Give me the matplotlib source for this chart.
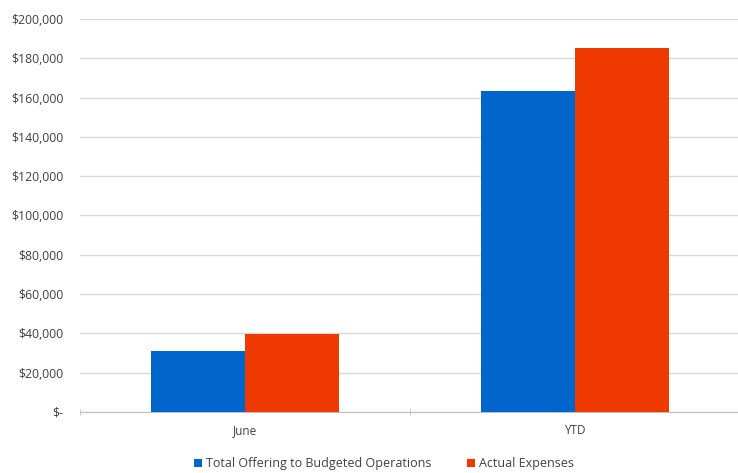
import matplotlib.pyplot as plt
import numpy as np
from matplotlib.ticker import FuncFormatter

# data
categories = ['June', 'YTD']
offering = [31000, 163500]
expenses = [39500, 185000]
series_names = ['Total Offering to Budgeted Operations', 'Actual Expenses']

plt.rcParams['font.family'] = ['Open Sans', 'DejaVu Sans']

fig = plt.figure(figsize=(7.38, 4.73), dpi=100)
ax = fig.add_axes([0.1084, 0.129, 0.894, 0.831])

x = np.arange(len(categories))
w = 0.285
ax.bar(x - w / 2, offering, w, color='#0066CC', label=series_names[0], zorder=3)
ax.bar(x + w / 2, expenses, w, color='#EE3A00', label=series_names[1], zorder=3)

ax.set_xlim(-0.5, 1.5)
ax.set_ylim(0, 200000)
ax.set_yticks(np.arange(0, 200001, 20000))


def money(v, pos):
    if v == 0:
        return '$-'
    return '${:,.0f}'.format(v)


ax.yaxis.set_major_formatter(FuncFormatter(money))
ax.grid(axis='y', color='#D9D9D9', linewidth=1, zorder=0)
for s in ['top', 'right', 'left']:
    ax.spines[s].set_visible(False)
ax.spines['bottom'].set_color('#BFBFBF')

ax.set_xticks(x)
ax.set_xticklabels(categories)
ax.set_xticks([-0.5, 0.5, 1.5], minor=True)
ax.tick_params(axis='x', which='major', length=0, pad=9, labelsize=8.5, labelcolor='#404040')
ax.tick_params(axis='x', which='minor', length=5, color='#BFBFBF', direction='inout')
ax.tick_params(axis='y', length=0, pad=12, labelsize=8.8, labelcolor='#404040')

fig.legend(loc='lower center', bbox_to_anchor=(0.52, -0.018), ncol=2, frameon=False,
           fontsize=9, handlelength=0.7, handleheight=0.7, columnspacing=2.8,
           handletextpad=0.3, labelcolor='#404040')

fig.savefig('out.png', dpi=100)
